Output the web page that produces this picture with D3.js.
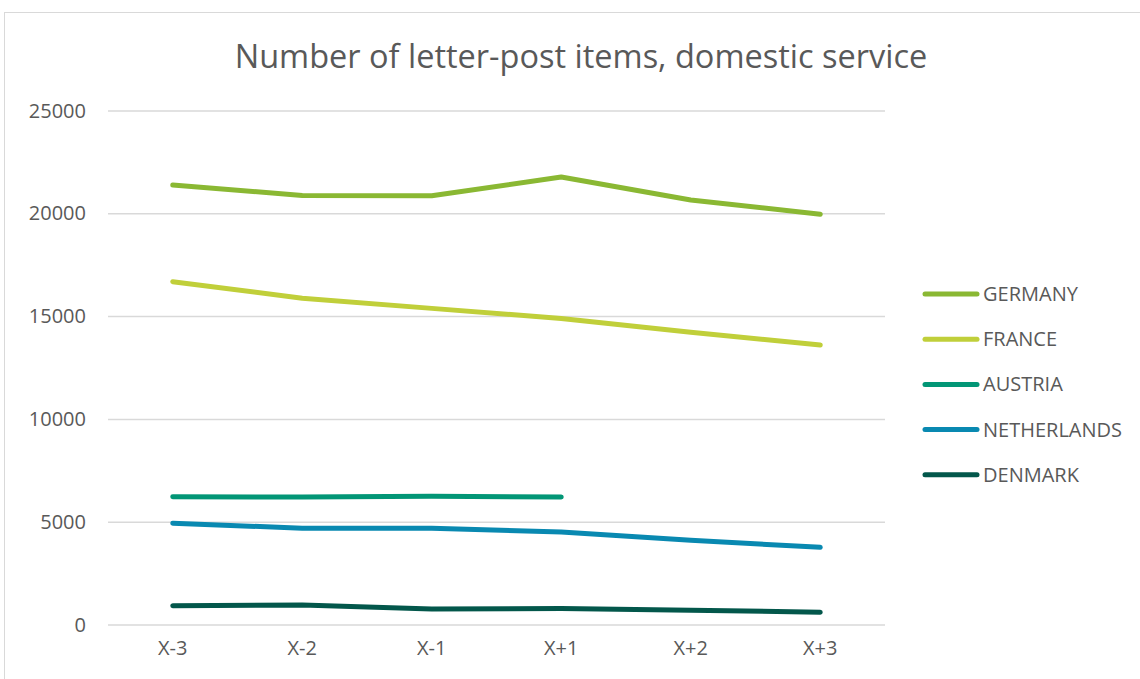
<!DOCTYPE html>
<html>
<head>
<meta charset="utf-8">
<script src="https://cdn.jsdelivr.net/npm/d3@7"></script>
<style>
body { margin: 0; background: #fff; }
svg { display: block; font-family: "Open Sans", sans-serif; }
</style>
</head>
<body>
<script>
var svgWidth = 1140;
var svgHeight = 679;

// data
var years = ["X-3", "X-2", "X-1", "X+1", "X+2", "X+3"];
var countries = ["GERMANY", "FRANCE", "AUSTRIA", "NETHERLANDS", "DENMARK"];
var germany = [21400, 20890, 20880, 21790, 20670, 19980];
var france = [16700, 15890, 15400, 14910, 14240, 13620];
var austria = [6240, 6220, 6260, 6230, null, null];
var netherlands = [4950, 4710, 4700, 4520, 4120, 3780];
var denmark = [940, 970, 780, 800, 720, 620];
var yTicks = [0, 5000, 10000, 15000, 20000, 25000];
var colors = ["#8ab833", "#c0cf3a", "#029676", "#0989b1", "#03574b"];

var seriesValues = [germany, france, austria, netherlands, denmark];

var svg = d3.select("body").append("svg")
	.attr("width", svgWidth)
	.attr("height", svgHeight);

// chart frame
svg.append("rect")
	.attr("x", 4.5).attr("y", 12.5)
	.attr("width", 1300).attr("height", 800)
	.attr("fill", "none")
	.attr("stroke", "#d9d9d9")
	.attr("stroke-width", 1);

svg.append("text")
	.attr("x", 581).attr("y", 68)
	.attr("text-anchor", "middle")
	.attr("fill", "#595959")
	.style("font-size", "32.5px")
	.text("Number of letter-post items, domestic service");

var x = d3.scaleBand().domain(years).range([108, 885]);
var y = d3.scaleLinear().domain([0, 25000]).range([625, 111]);

// gridlines
svg.append("g").selectAll("line.grid")
	.data(yTicks)
	.enter()
	.append("line")
	.attr("class", "grid")
	.attr("x1", 108).attr("x2", 885)
	.attr("y1", function(d) { return y(d); })
	.attr("y2", function(d) { return y(d); })
	.attr("stroke", "#d9d9d9")
	.attr("stroke-width", 1.5);

// y axis labels
var yAxis = svg.append("g")
	.attr("transform", "translate(86,0)")
	.call(d3.axisLeft(y).tickValues(yTicks).tickSize(0).tickPadding(0).tickFormat(d3.format("d")));
yAxis.select(".domain").remove();
yAxis.selectAll("text")
	.attr("fill", "#595959")
	.attr("dy", "0.3em")
	.style("font-size", "20px")
	.style("font-family", "'Open Sans', sans-serif");

// x axis labels
var xAxis = svg.append("g")
	.attr("transform", "translate(0,641)")
	.call(d3.axisBottom(x).tickSize(0).tickPadding(0));
xAxis.select(".domain").remove();
xAxis.selectAll("text")
	.attr("fill", "#595959")
	.style("font-size", "20px")
	.style("font-family", "'Open Sans', sans-serif");

var line = d3.line()
	.defined(function(d) { return d != null; })
	.x(function(d, i) { return x(years[i]) + x.bandwidth() / 2; })
	.y(function(d) { return y(d); });

svg.append("g").selectAll("path.series")
	.data(seriesValues)
	.enter()
	.append("path")
	.attr("class", "series")
	.attr("d", line)
	.attr("fill", "none")
	.attr("stroke", function(d, i) { return colors[i]; })
	.attr("stroke-width", 5)
	.attr("stroke-linecap", "round")
	.attr("stroke-linejoin", "round");

// legend
var legend = svg.append("g").selectAll("g.leg")
	.data(countries)
	.enter()
	.append("g")
	.attr("class", "leg")
	.attr("transform", function(d, i) { return "translate(924," + (294 + i * 45.2) + ")"; });

legend.append("line")
	.attr("x1", 1).attr("x2", 53)
	.attr("stroke", function(d, i) { return colors[i]; })
	.attr("stroke-width", 5)
	.attr("stroke-linecap", "round");

legend.append("text")
	.attr("x", 59).attr("y", 7)
	.attr("fill", "#595959")
	.style("font-size", "20px")
	.text(function(d) { return d; });
</script>
</body>
</html>
